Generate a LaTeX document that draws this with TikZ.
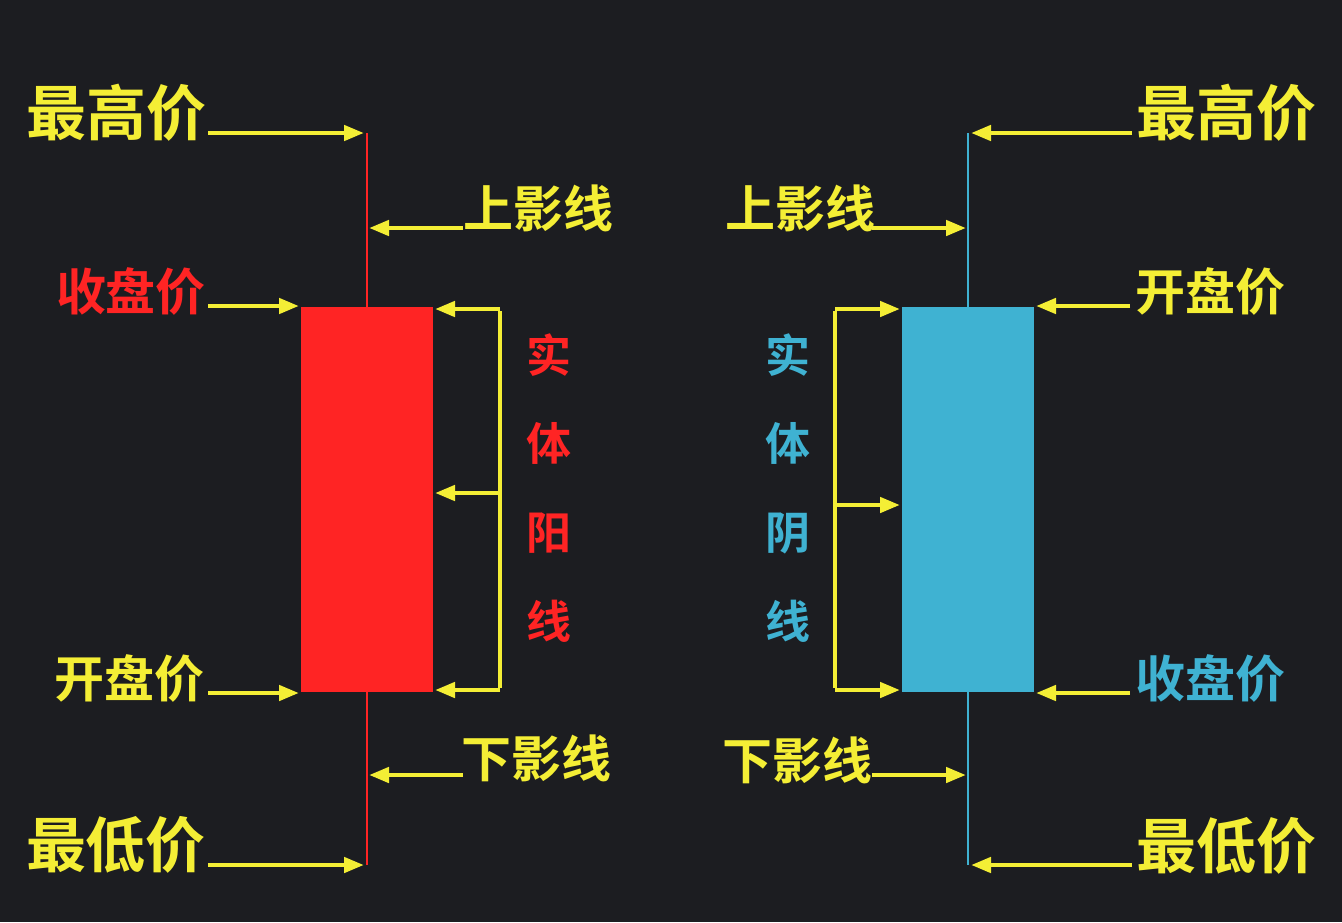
\documentclass[tikz,border=0pt]{standalone}
\usepackage{fontspec}
\newfontfamily\cjk{Noto Sans CJK SC Bold}
\usetikzlibrary{arrows.meta}
\definecolor{bg}{HTML}{1C1D21}
\definecolor{ylw}{HTML}{F4EE35}
\definecolor{rd}{HTML}{FF2424}
\definecolor{bl}{HTML}{3FB2D2}
\tikzset{
 arr/.style={draw=ylw,line width=4.5pt,-{Triangle[length=20pt,width=15pt]}},
 brk/.style={draw=ylw,line width=4.5pt},
 big/.style={font=\cjk\fontsize{60}{60}\selectfont,text=ylw,inner sep=0},
 mid/.style={font=\cjk\fontsize{50}{50}\selectfont,text=ylw,inner sep=0},
 vt/.style={font=\cjk\fontsize{45}{45}\selectfont,inner sep=0},
}
\begin{document}
\begin{tikzpicture}[x=1pt,y=-1pt]
\fill[bg] (0,0) rectangle (1342,922);
\useasboundingbox (0,0) rectangle (1342,922);
% left candle
\coordinate (lt) at (367,133); \coordinate (lb) at (367,865);
\draw[rd,line width=2.5pt] (lt) -- (lb);
\node[fill=rd,minimum width=132pt,minimum height=385pt,inner sep=0,anchor=north west] (lbody) at (301,307) {};
\node[big] (l1) at (117,113) {最高价};
\node[mid] (l2) at (538,208) {上影线};
\node[mid,text=rd] (l3) at (131,291) {收盘价};
\node[mid] (l4) at (129,678) {开盘价};
\node[mid] (l5) at (536,758) {下影线};
\node[big] (l6) at (116,845) {最低价};
\coordinate (a1s) at (208,133); \coordinate (a1e) at (364,133);
\draw[arr] (a1s) -- (a1e);
\coordinate (a2s) at (463,228); \coordinate (a2e) at (369,228);
\draw[arr] (a2s) -- (a2e);
\coordinate (a3s) at (208,306); \coordinate (a3e) at (299,306);
\draw[arr] (a3s) -- (a3e);
\coordinate (a4s) at (208,693); \coordinate (a4e) at (299,693);
\draw[arr] (a4s) -- (a4e);
\coordinate (a5s) at (463,775); \coordinate (a5e) at (369,775);
\draw[arr] (a5s) -- (a5e);
\coordinate (a6s) at (208,865); \coordinate (a6e) at (364,865);
\draw[arr] (a6s) -- (a6e);
\coordinate (lbt) at (500,309); \coordinate (lbb) at (500,690); \coordinate (lbm) at (500,493);
\draw[brk] ([yshift=-2pt]lbt) -- ([yshift=2pt]lbb);
\draw[arr] (lbt) -- (435,309);
\draw[arr] (lbm) -- (435,493);
\draw[arr] (lbb) -- (435,690);
\node[vt,text=rd] (lv1) at (549,355) {实};
\node[vt,text=rd] (lv2) at (549,443) {体};
\node[vt,text=rd] (lv3) at (549,533) {阳};
\node[vt,text=rd] (lv4) at (549,621) {线};
% right candle
\coordinate (rt) at (968,133); \coordinate (rb) at (968,865);
\draw[bl,line width=2.5pt] (rt) -- (rb);
\node[fill=bl,minimum width=132pt,minimum height=385pt,inner sep=0,anchor=north west] (rbody) at (902,307) {};
\node[big] (r1) at (1226,113) {最高价};
\node[mid] (r2) at (800,208) {上影线};
\node[mid] (r3) at (1210,291) {开盘价};
\node[mid,text=bl] (r4) at (1210,678) {收盘价};
\node[mid] (r5) at (797,760) {下影线};
\node[big] (r6) at (1226,846) {最低价};
\coordinate (b1s) at (1132,133); \coordinate (b1e) at (971,133);
\draw[arr] (b1s) -- (b1e);
\coordinate (b2s) at (872,228); \coordinate (b2e) at (966,228);
\draw[arr] (b2s) -- (b2e);
\coordinate (b3s) at (1130,306); \coordinate (b3e) at (1036,306);
\draw[arr] (b3s) -- (b3e);
\coordinate (b4s) at (1130,693); \coordinate (b4e) at (1036,693);
\draw[arr] (b4s) -- (b4e);
\coordinate (b5s) at (872,775); \coordinate (b5e) at (966,775);
\draw[arr] (b5s) -- (b5e);
\coordinate (b6s) at (1132,865); \coordinate (b6e) at (971,865);
\draw[arr] (b6s) -- (b6e);
\coordinate (rbt) at (835,309); \coordinate (rbb) at (835,690); \coordinate (rbm) at (835,505);
\draw[brk] ([yshift=-2pt]rbt) -- ([yshift=2pt]rbb);
\draw[arr] (rbt) -- (900,309);
\draw[arr] (rbm) -- (900,505);
\draw[arr] (rbb) -- (900,690);
\node[vt,text=bl] (rv1) at (788,355) {实};
\node[vt,text=bl] (rv2) at (788,443) {体};
\node[vt,text=bl] (rv3) at (788,533) {阴};
\node[vt,text=bl] (rv4) at (788,621) {线};
\end{tikzpicture}
\end{document}
